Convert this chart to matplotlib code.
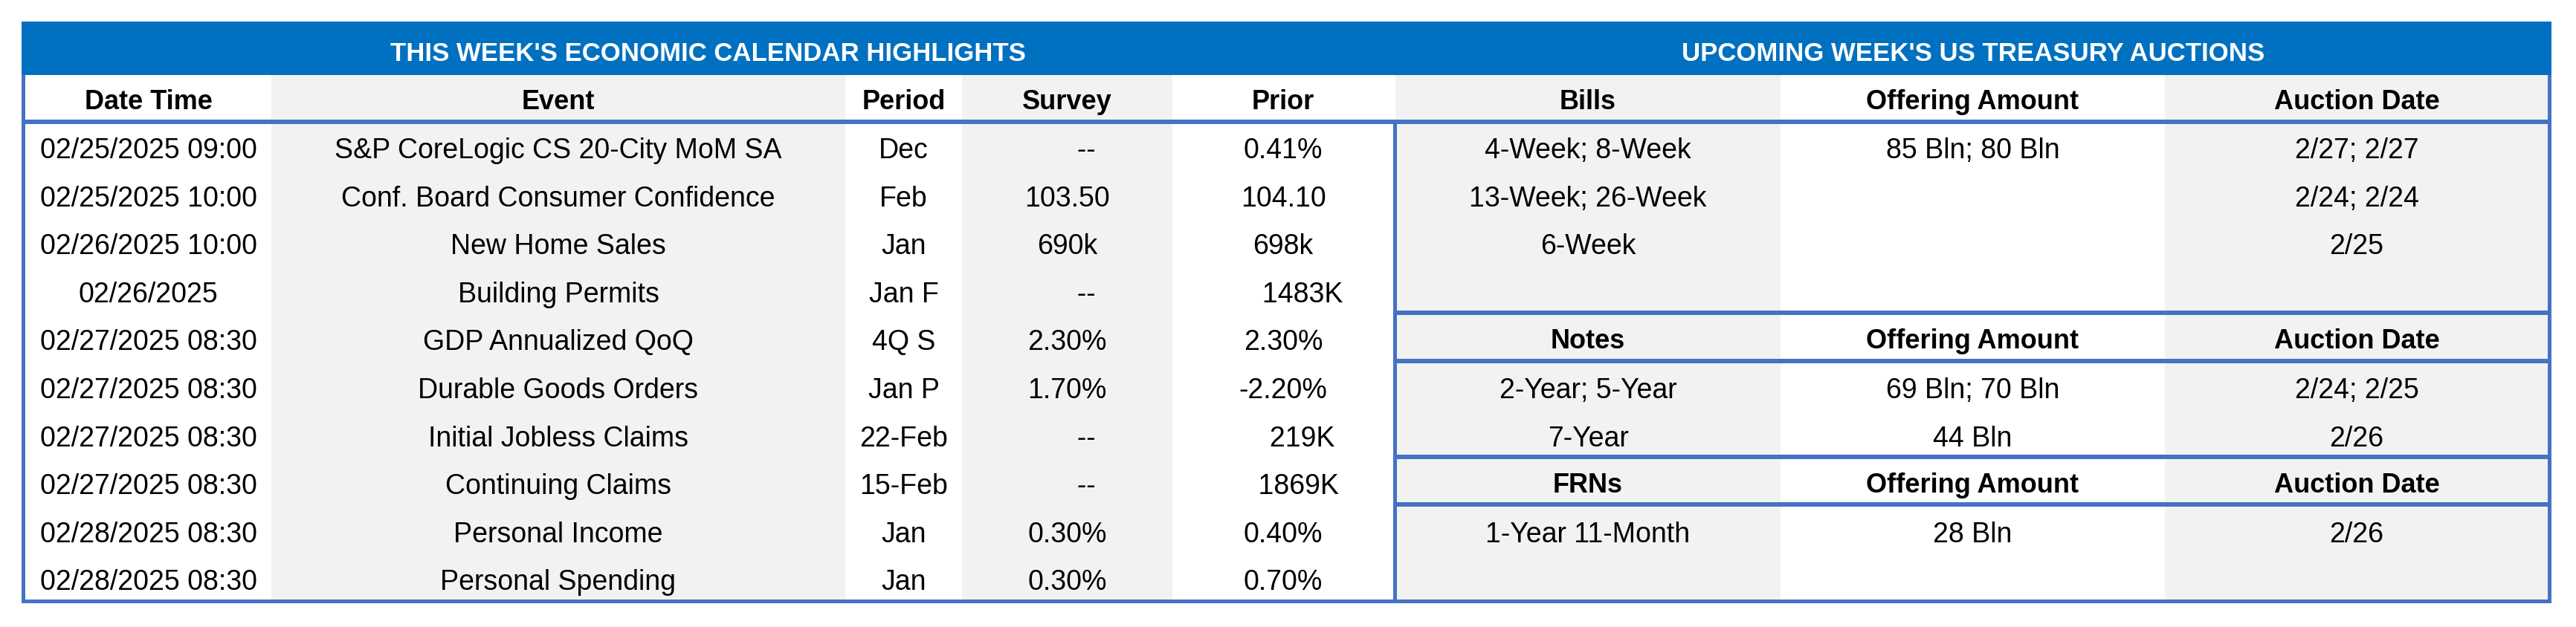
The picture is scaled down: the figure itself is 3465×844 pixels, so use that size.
import matplotlib.pyplot as plt
from matplotlib.patches import Rectangle

plt.rcParams['font.family'] = ['Liberation Sans', 'DejaVu Sans']

# ---- economic calendar (left table) ----
cal_title = "THIS WEEK'S ECONOMIC CALENDAR HIGHLIGHTS"
cal_cols = ["Date Time", "Event", "Period", "Survey", "Prior"]
dates = ["02/25/2025 09:00", "02/25/2025 10:00", "02/26/2025 10:00", "02/26/2025",
         "02/27/2025 08:30", "02/27/2025 08:30", "02/27/2025 08:30", "02/27/2025 08:30",
         "02/28/2025 08:30", "02/28/2025 08:30"]
events = ["S&P CoreLogic CS 20-City MoM SA", "Conf. Board Consumer Confidence",
          "New Home Sales", "Building Permits", "GDP Annualized QoQ",
          "Durable Goods Orders", "Initial Jobless Claims", "Continuing Claims",
          "Personal Income", "Personal Spending"]
periods = ["Dec", "Feb", "Jan", "Jan F", "4Q S", "Jan P", "22-Feb", "15-Feb", "Jan", "Jan"]
# leading spaces kept as in the source sheet (those cells sit a bit right)
survey = ["     --", "103.50", "690k", "     --", "2.30%", "1.70%", "     --", "     --",
          "0.30%", "0.30%"]
prior = ["0.41%", "104.10", "698k", "     1483K", "2.30%", "-2.20%", "     219K",
         "    1869K", "0.40%", "0.70%"]

# ---- treasury auctions (right table) ----
auc_title = "UPCOMING WEEK'S US TREASURY AUCTIONS"
bills_hdr = ["Bills", "Offering Amount", "Auction Date"]
bills = ["4-Week; 8-Week", "13-Week; 26-Week", "6-Week"]
bills_amt = ["85 Bln; 80 Bln", "", ""]
bills_date = ["2/27; 2/27", "2/24; 2/24", "2/25"]
notes_hdr = ["Notes", "Offering Amount", "Auction Date"]
notes = ["2-Year; 5-Year", "7-Year"]
notes_amt = ["69 Bln; 70 Bln", "44 Bln"]
notes_date = ["2/24; 2/25", "2/26"]
frn_hdr = ["FRNs", "Offering Amount", "Auction Date"]
frns = ["1-Year 11-Month"]
frn_amt = ["28 Bln"]
frn_date = ["2/26"]

BLUE = "#0070C0"
LINE = "#4472C4"
GRAY = "#F2F2F2"

W, H = 3465, 845
fig = plt.figure(figsize=(W / 100, H / 100), dpi=100)
ax = fig.add_axes([0, 0, 1, 1])
ax.set_xlim(0, W)
ax.set_ylim(H, 0)
ax.axis('off')

# layout (pixels)
left_x = [34, 365, 1137, 1294, 1577, 1875]
right_x = [1877, 2395, 2912, 3428]
x0, x1 = 29, 3432
top, head_bot, bottom = 30, 102, 811
row0, row_h = 165, 64.55


def box(xa, ya, xb, yb, color):
    ax.add_patch(Rectangle((xa, ya), xb - xa, yb - ya, facecolor=color,
                           edgecolor='none', lw=0))


def mid(i):
    return row0 + row_h * (i + 0.5)


def put(x, y, s, bold=False, size=27, color='black'):
    ax.text(x, y, s, ha='center', va='baseline', fontsize=size, color=color,
            fontweight='bold' if bold else 'normal')


# column fills
for i in range(5):
    box(left_x[i], head_bot, left_x[i + 1], bottom, GRAY if i % 2 else "white")
for i in range(3):
    box(right_x[i], head_bot, right_x[i + 1], bottom, "white" if i % 2 else GRAY)

# title bar
box(x0, top, x1, head_bot, BLUE)
put((x0 + 1875) / 2, 82, cal_title, bold=True, size=25, color='white')
put((1877 + x1) / 2, 82, auc_title, bold=True, size=25, color='white')

# column headers
for i, c in enumerate(cal_cols):
    put((left_x[i] + left_x[i + 1]) / 2, 147, c, bold=True, size=26)
for i, c in enumerate(bills_hdr):
    put((right_x[i] + right_x[i + 1]) / 2, 147, c, bold=True, size=26)

# lines
box(x0, 162, x1, 168, LINE)
box(x0, head_bot, x0 + 5, bottom + 2, LINE)
box(x1 - 5, head_bot, x1, bottom + 2, LINE)
box(x0, bottom - 3, x1, bottom + 2, LINE)
box(1874, 168, 1879, bottom + 2, LINE)

# left table rows
cols = [dates, events, periods, survey, prior]
for j, col in enumerate(cols):
    cx = (left_x[j] + left_x[j + 1]) / 2
    for i, s in enumerate(col):
        put(cx, mid(i) + 16, s)

# right table sections
cx_r = [(right_x[k] + right_x[k + 1]) / 2 for k in range(3)]


def section(start, names, amts, dts):
    for i in range(len(names)):
        y = mid(start + i) + 16
        put(cx_r[0], y, names[i])
        put(cx_r[1], y, amts[i])
        put(cx_r[2], y, dts[i])


section(0, bills, bills_amt, bills_date)

for hdr_row, hdr, names, amts, dts in [(4, notes_hdr, notes, notes_amt, notes_date),
                                       (7, frn_hdr, frns, frn_amt, frn_date)]:
    for edge in (row0 + row_h * hdr_row, row0 + row_h * (hdr_row + 1)):
        box(1874, edge - 4, x1, edge + 2, LINE)
    for k, c in enumerate(hdr):
        put(cx_r[k], mid(hdr_row) + 14, c, bold=True, size=26)
    section(hdr_row + 1, names, amts, dts)

fig.savefig("out.png", dpi=100)
